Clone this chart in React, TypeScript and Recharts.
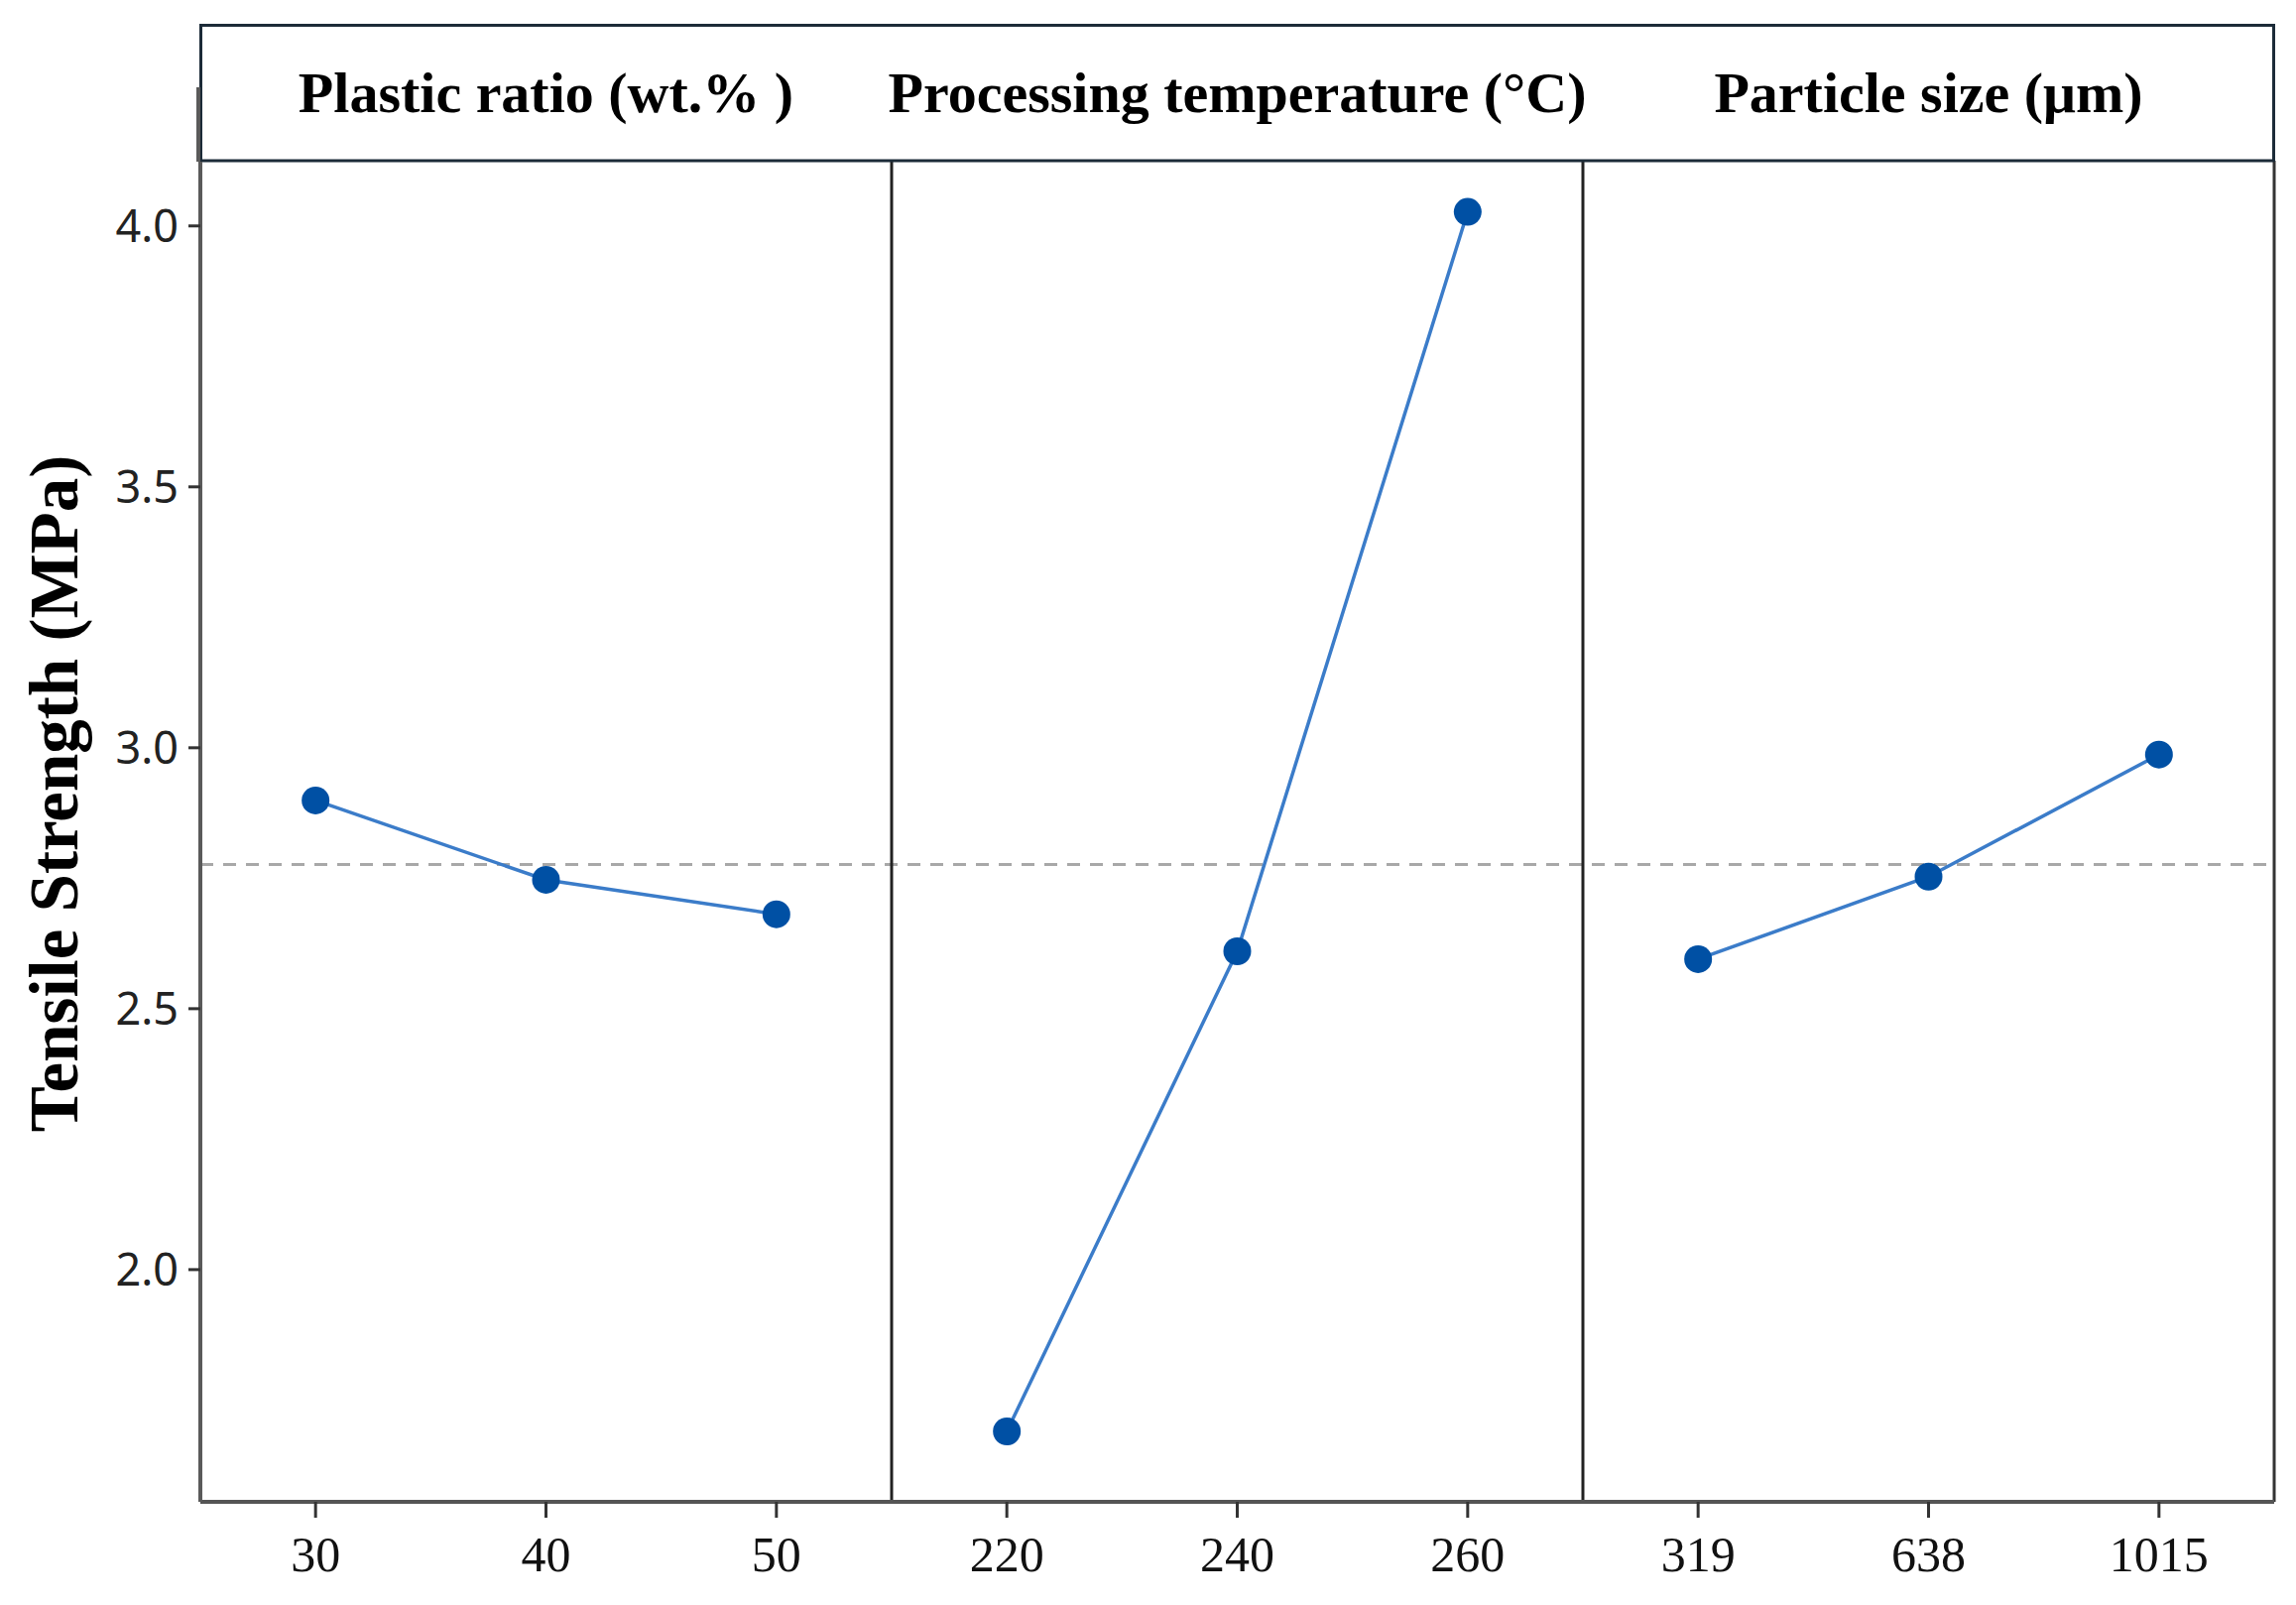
import { LineChart, Line, XAxis, YAxis, ReferenceLine } from 'recharts';

const factorTitles = ['Plastic ratio (wt.% )', 'Processing temperature (°C)', 'Particle size (μm)'];
const levelLabels = ['30', '40', '50', '220', '240', '260', '319', '638', '1015'];
const plasticRatio = [2.899, 2.747, 2.681];
const processingTemp = [1.69, 2.61, 4.027];
const particleSize = [2.595, 2.753, 2.987];
const yTicks = [2.0, 2.5, 3.0, 3.5, 4.0];

const allValues = [...plasticRatio, ...processingTemp, ...particleSize];
const mean = allValues.reduce((s, v) => s + v, 0) / allValues.length;

// one row per level, each factor only fills its own three slots
const data = levelLabels.map((label, i) => ({
  pos: i + 1,
  label,
  p1: i < 3 ? plasticRatio[i] : null,
  p2: i >= 3 && i < 6 ? processingTemp[i - 3] : null,
  p3: i >= 6 ? particleSize[i - 6] : null,
}));

const LINE = '#3b7cc9';
const DOT = '#0050a4';
const serif = '"Liberation Serif", "Times New Roman", serif';

const TitleTick = (props: any) => {
  const { x, payload } = props;
  const idx = Math.round((payload.value - 2) / 3);
  return (
    <text x={x} y={113} textAnchor="middle" fontFamily={serif} fontWeight="bold" fontSize={58} fill="#000">
      {factorTitles[idx]}
    </text>
  );
};

const YLabel = () => (
  <text
    x={78}
    y={800}
    transform="rotate(-90, 78, 800)"
    textAnchor="middle"
    fontFamily={serif}
    fontWeight="bold"
    fontSize={69}
    fill="#000"
  >
    Tensile Strength (MPa)
  </text>
);

export default function App() {
  return (
    <div style={{ position: 'absolute', left: 0, top: 0, width: 2315, height: 1618, background: '#fff' }}>
      <LineChart width={2315} height={1618} data={data} margin={{ top: 25, right: 22, bottom: 24, left: 82 }}>
        <XAxis
          dataKey="pos"
          type="number"
          domain={[0.5, 9.5]}
          ticks={[1, 2, 3, 4, 5, 6, 7, 8, 9]}
          tickFormatter={(v: number) => levelLabels[v - 1]}
          height={80}
          tickSize={16}
          tickMargin={18}
          axisLine={{ stroke: '#555', strokeWidth: 4 }}
          tickLine={{ stroke: '#333', strokeWidth: 3 }}
          tick={{ fontFamily: serif, fontSize: 50, fill: '#111' }}
          allowDataOverflow
        />
        <XAxis
          xAxisId="top"
          dataKey="pos"
          orientation="top"
          type="number"
          domain={[0.5, 9.5]}
          ticks={[2, 5, 8]}
          height={137}
          tickLine={false}
          axisLine={{ stroke: '#1c2b38', strokeWidth: 3 }}
          tick={<TitleTick />}
          allowDataOverflow
        />
        <YAxis
          type="number"
          domain={[1.555, 4.125]}
          ticks={yTicks}
          tickFormatter={(v: number) => v.toFixed(1)}
          width={120}
          tickSize={12}
          tickMargin={10}
          axisLine={{ stroke: '#5a5a5a', strokeWidth: 4 }}
          tickLine={{ stroke: '#333', strokeWidth: 3 }}
          tick={{ fontFamily: '"Noto Sans", sans-serif', fontSize: 45, fill: '#222' }}
          label={<YLabel />}
          allowDataOverflow
        />
        <ReferenceLine y={mean} stroke="#a8a8a8" strokeWidth={3} strokeDasharray="13 10" />
        <ReferenceLine x={3.5} stroke="#222" strokeWidth={3} />
        <ReferenceLine x={6.5} stroke="#222" strokeWidth={3} />
        <ReferenceLine x={9.5} stroke="#333" strokeWidth={3} />
        {/* invisible series so the top (title) axis shares the same x scale */}
        <Line xAxisId="top" dataKey="p1" stroke="none" dot={false} activeDot={false} isAnimationActive={false} />
        <Line dataKey="p1" stroke={LINE} strokeWidth={3.5} dot={{ r: 14, fill: DOT, stroke: 'none' }} activeDot={false} isAnimationActive={false} />
        <Line dataKey="p2" stroke={LINE} strokeWidth={3.5} dot={{ r: 14, fill: DOT, stroke: 'none' }} activeDot={false} isAnimationActive={false} />
        <Line dataKey="p3" stroke={LINE} strokeWidth={3.5} dot={{ r: 14, fill: DOT, stroke: 'none' }} activeDot={false} isAnimationActive={false} />
      </LineChart>
      {/* header box around the factor titles */}
      <div
        style={{
          position: 'absolute',
          left: 201,
          top: 24,
          width: 2093,
          height: 139,
          boxSizing: 'border-box',
          border: '3px solid #1c2b38',
          borderBottom: 'none',
          pointerEvents: 'none',
        }}
      />
      {/* y axis line pokes above the header bottom */}
      <div style={{ position: 'absolute', left: 198, top: 88, width: 4, height: 75, background: '#5a5a5a' }} />
    </div>
  );
}
